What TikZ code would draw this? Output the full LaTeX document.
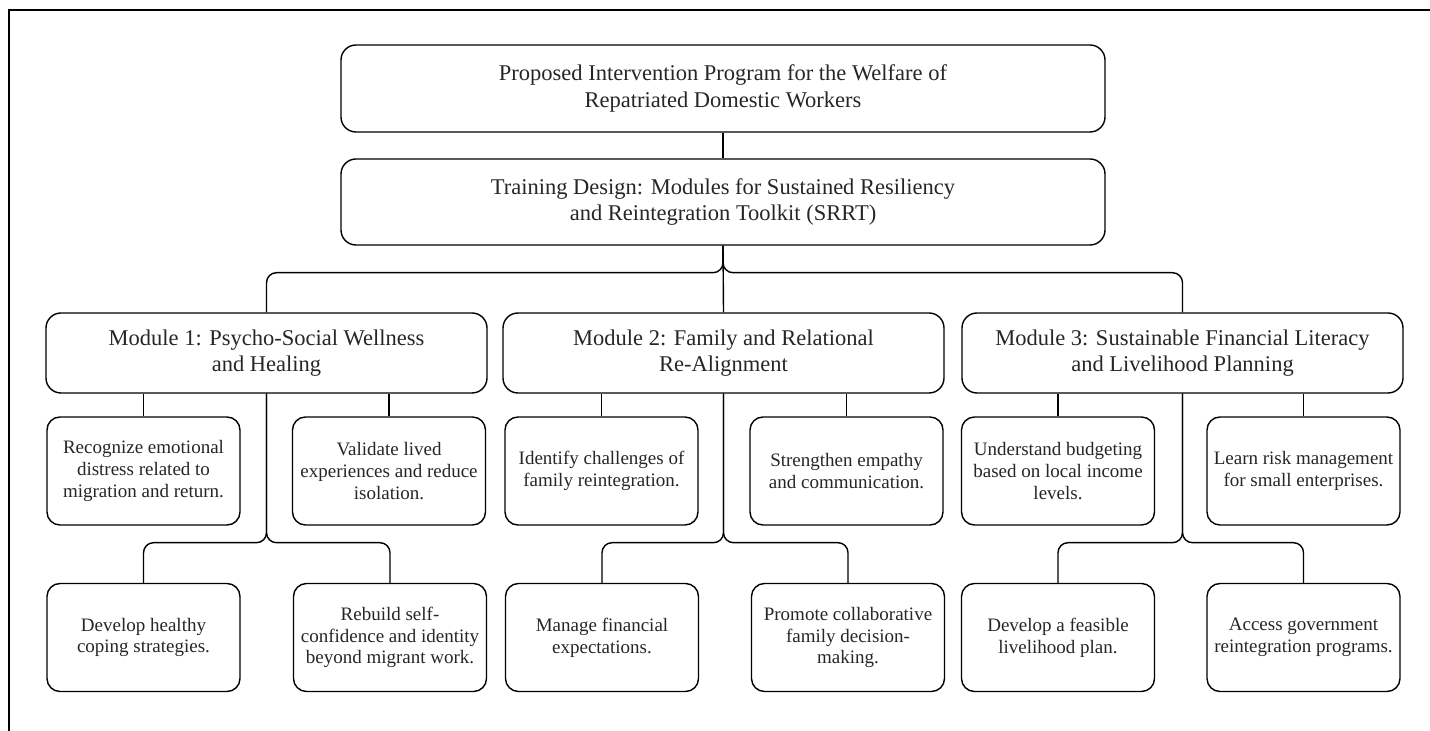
\documentclass[tikz,border=0pt]{standalone}
\usepackage{fontspec}
\setmainfont{Liberation Serif}
\begin{document}
\begin{tikzpicture}[x=0.5pt,y=-0.5pt,
  box/.style={draw, line width=0.7pt, rounded corners=7.5pt, align=center, inner sep=0pt, text=black!85},
  bigbox/.style={box, minimum width=382pt, font=\fontsize{11.25}{13.2}\selectfont},
  modbox/.style={box, minimum width=220.5pt, minimum height=40pt, font=\fontsize{11.25}{13.2}\selectfont},
  subbox/.style={box, rounded corners=6.5pt, minimum width=96.5pt, minimum height=54pt, font=\fontsize{9.5}{10.9}\selectfont},
  conn/.style={draw, line width=0.7pt, rounded corners=5pt}]
\useasboundingbox (0,0) rectangle (1430,731);
\draw[line width=0.8pt] (9,731) -- (9,10) -- (1430,10);

\node[bigbox, minimum height=43.5pt] (top) at (723,88.5) {Proposed Intervention Program for the Welfare of\\Repatriated Domestic Workers};
\node[bigbox, minimum height=43pt] (train) at (723,202) {Training Design: Modules for Sustained Resiliency\\and Reintegration Toolkit (SRRT)};

\node[modbox] (m1) at (266.5,353) {Module 1: Psycho-Social Wellness\\and Healing};
\node[modbox] (m2) at (723.5,353) {Module 2: Family and Relational\\Re-Alignment};
\node[modbox] (m3) at (1182.5,353) {Module 3: Sustainable Financial Literacy\\and Livelihood Planning};

\node[subbox] (s1a) at (143.5,471) {Recognize emotional\\distress related to\\migration and return.};
\node[subbox] (s1b) at (389,471) {Validate lived\\experiences and reduce\\isolation.};
\node[subbox] (s1c) at (143.5,637.5) {Develop healthy\\coping strategies.};
\node[subbox] (s1d) at (390,637.5) {Rebuild self-\\confidence and identity\\beyond migrant work.};

\node[subbox] (s2a) at (601.5,471) {Identify challenges of\\family reintegration.};
\node[subbox] (s2b) at (846.5,471) {Strengthen empathy\\and communication.};
\node[subbox] (s2c) at (602,637.5) {Manage financial\\expectations.};
\node[subbox] (s2d) at (848,637.5) {Promote collaborative\\family decision-\\making.};

\node[subbox] (s3a) at (1058,471) {Understand budgeting\\based on local income\\levels.};
\node[subbox] (s3b) at (1303.5,471) {Learn risk management\\for small enterprises.};
\node[subbox] (s3c) at (1058,637.5) {Develop a feasible\\livelihood plan.};
\node[subbox] (s3d) at (1303.5,637.5) {Access government\\reintegration programs.};

\draw[conn] (top) -- (train);
\draw[conn] (train.south) -- (m2.north);
\draw[conn] (train.south) -- ++(0,27) -| (m1.north);
\draw[conn] (train.south) -- ++(0,27) -| (m3.north);

\foreach \m/\a/\b/\c/\d in {m1/s1a/s1b/s1c/s1d, m2/s2a/s2b/s2c/s2d, m3/s3a/s3b/s3c/s3d}{
  \draw[conn] (\a.north |- \m.south) -- (\a.north);
  \draw[conn] (\b.north |- \m.south) -- (\b.north);
  \draw[conn] (\m.south) -- ++(0,149) -| (\c.north);
  \draw[conn] (\m.south) -- ++(0,149) -| (\d.north);
}
\end{tikzpicture}
\end{document}
